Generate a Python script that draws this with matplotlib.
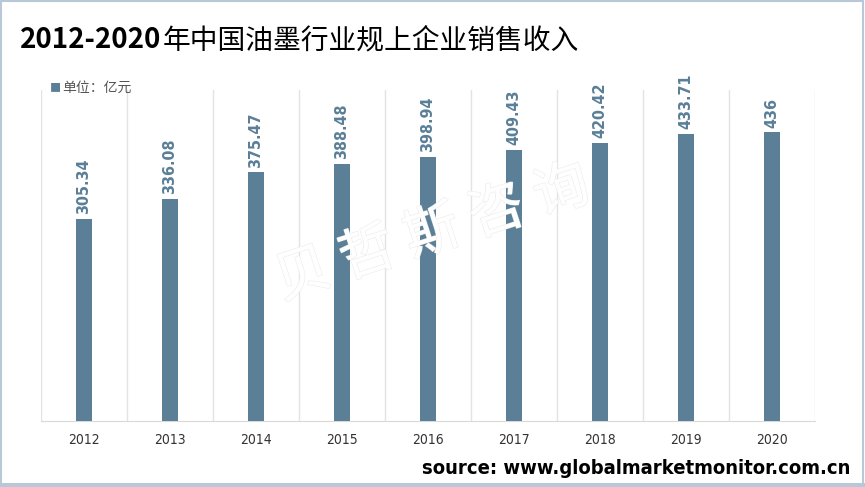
import matplotlib.pyplot as plt
from matplotlib.patches import Rectangle
import matplotlib.patheffects as pe
import numpy as np

plt.rcParams['font.family'] = ['Noto Sans CJK SC', 'DejaVu Sans']

years = ["2012", "2013", "2014", "2015", "2016", "2017", "2018", "2019", "2020"]
values = [305.34, 336.08, 375.47, 388.48, 398.94, 409.43, 420.42, 433.71, 436]
labels = ["305.34", "336.08", "375.47", "388.48", "398.94", "409.43", "420.42", "433.71", "436"]

bar_color = "#5A7F97"
narrow = ["DejaVu Sans"]

fig = plt.figure(figsize=(8.65, 4.87), dpi=100)
ax = fig.add_axes([41 / 865, 1 - 421 / 487, (815 - 41) / 865, (421 - 90) / 487])

x = np.arange(len(years))
ax.bar(x, values, width=0.18, color=bar_color, zorder=3)

for xi, v, lab in zip(x, values, labels):
    ax.text(xi, v + 7, lab, rotation=90, ha="center", va="bottom",
            color=bar_color, fontsize=11.5, fontweight="bold",
            family=narrow, fontstretch="condensed", zorder=4)

ax.set_xlim(-0.5, len(years) - 0.5)
ax.set_ylim(0, 500)
ax.set_xticks(x)
ax.set_xticklabels(years, fontsize=10, color="#333333", family=narrow,
                   fontstretch="condensed")
ax.tick_params(axis="x", length=0, pad=9)
ax.set_yticks([])
for b in np.arange(-0.5, len(years), 1):
    ax.axvline(b, color="#E3E3E3", lw=1, zorder=1)
for s in ["top", "left", "right"]:
    ax.spines[s].set_visible(False)
ax.spines["bottom"].set_color("#D9D9D9")

# 标题与图例
t1 = fig.text(20 / 865, 1 - 40 / 487, "2012-2020",
              fontsize=20, fontweight="bold", va="center", ha="left")
fig.canvas.draw()
bb = t1.get_window_extent()
fig.text(bb.x1 / 865 + 0.001, 1 - 40 / 487, "年中国油墨行业规上企业销售收入",
         fontsize=20, fontweight="medium", va="center", ha="left")
fig.text(50 / 865, 1 - 88 / 487, "■", fontsize=8, color=bar_color, va="center")
fig.text(62 / 865, 1 - 88 / 487, "单位：亿元", fontsize=10, color="#555555", va="center")

# 水印
fig.text(0.5, 0.52, "贝 哲 斯 咨 询", fontsize=40, color="white", rotation=18,
         ha="center", va="center", zorder=0, alpha=0.9,
         path_effects=[pe.withStroke(linewidth=1.0, foreground="#EAEAEA"), pe.Normal()])

fig.text(850 / 865, 1 - 468 / 487, "source: www.globalmarketmonitor.com.cn",
         fontsize=14.5, ha="right", va="center", fontweight="bold",
         family=narrow, fontstretch="condensed")

# 外框
fig.patches.append(Rectangle((0.001, 0.004), 0.997, 0.994, transform=fig.transFigure,
                             fill=False, edgecolor="#B8C8D8", lw=1.5))
fig.patches.append(Rectangle((0, 0), 1, 4 / 487, transform=fig.transFigure,
                             color="#B8C8D8", lw=0))

fig.savefig("out.png", dpi=100)
